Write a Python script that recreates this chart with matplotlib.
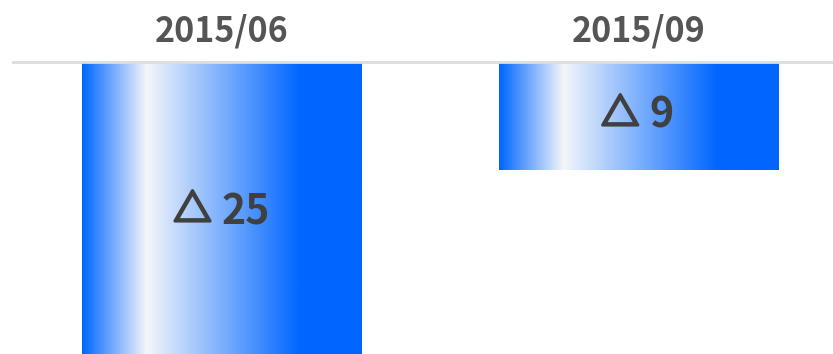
import matplotlib.pyplot as plt
import matplotlib.patheffects as pe
import matplotlib.transforms as mtransforms
from matplotlib.colors import LinearSegmentedColormap
import numpy as np

periods = ['2015/06', '2015/09']
values = [25, 9]

plt.rcParams['font.family'] = ['Noto Sans CJK JP', 'DejaVu Sans']

fig = plt.figure(figsize=(8.33, 3.54), dpi=100)
# axes run a little past the right edge so the categories sit at 0 and 1
ax = fig.add_axes([13 / 833, 0, 834 / 833, 292 / 354])

grad = LinearSegmentedColormap.from_list(
    'shine', [(0.0, '#0066ff'), (0.23, '#f4f6fa'), (0.78, '#0066ff'), (1.0, '#0066ff')])

xpos = np.arange(len(periods))
bars = ax.bar(xpos, values, width=0.67, color='none', edgecolor='none')

g = np.linspace(0, 1, 256).reshape(1, -1)
for b, v in zip(bars, values):
    x0 = b.get_x()
    w = b.get_width()
    im = ax.imshow(g, cmap=grad, aspect='auto', extent=[x0, x0 + w, v, 0],
                   interpolation='bilinear', zorder=2)
    im.set_clip_path(b)

    # triangle and number laid out side by side (pixel offsets)
    s = str(v)
    tri_w, gap, dig_w = 32, 15, 21.5 * len(s)
    left = -(tri_w + gap + dig_w) / 2
    cx, cy = x0 + w / 2, v / 2
    t1 = mtransforms.offset_copy(ax.transData, fig=fig, x=left + tri_w / 2, y=1, units='dots')
    t2 = mtransforms.offset_copy(ax.transData, fig=fig, x=left + tri_w + gap - 2, y=0, units='dots')
    ax.text(cx, cy, '\u25b3', transform=t1, ha='center', va='center',
            fontsize=27, color='#404040', zorder=3,
            path_effects=[pe.withStroke(linewidth=2.2, foreground='#404040')])
    ax.text(cx, cy, s, transform=t2, ha='left', va='center',
            fontsize=29.5, fontweight='bold', color='#404040', zorder=3)

ax.set_xlim(-0.5, 1.5)
ax.set_ylim(292 / 12, 0)

ax.xaxis.tick_top()
ax.set_xticks(xpos)
ax.set_xticklabels(periods, fontsize=24.5, fontweight='bold', color='#555555')
ax.tick_params(axis='x', length=0, pad=10)
ax.set_yticks([])
for sp in ['left', 'right', 'bottom']:
    ax.spines[sp].set_visible(False)
ax.spines['top'].set_color('#dddddd')
ax.spines['top'].set_linewidth(2)

fig.savefig('out.png', dpi=100)
